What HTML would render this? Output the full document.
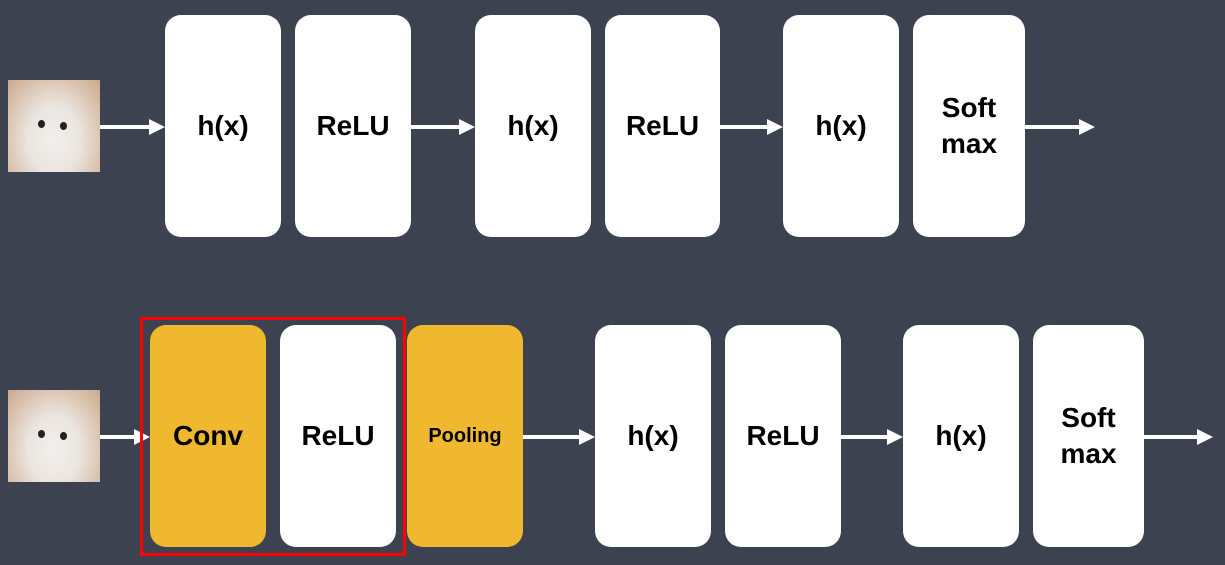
<!DOCTYPE html>
<html><head><style>
body{margin:0;width:1225px;height:565px;background:#3c4250;position:relative;overflow:hidden;font-family:"Liberation Sans","Noto Sans CJK KR",sans-serif;}
.b{position:absolute;background:#fff;border-radius:16px;display:flex;align-items:center;justify-content:center;text-align:center;font-weight:bold;font-size:28px;color:#000;line-height:36px;}
.y{background:#f0b82e;}
.cat{position:absolute;width:92px;height:92px;background:radial-gradient(ellipse at 50% 65%,#f2efec 0%,#ebe5e0 40%,#d9c2ad 75%,#caa88c 100%);}
.cat:before{content:"";position:absolute;left:30px;top:40px;width:7px;height:8px;border-radius:50%;background:#222;box-shadow:22px 2px 0 #222;}
</style></head><body>
<div class="cat" style="left:8px;top:80px"></div>
<div class="cat" style="left:8px;top:390px"></div>
<svg width="1225" height="565" style="position:absolute;left:0;top:0">
<defs><marker id="a" markerWidth="4" markerHeight="4" refX="3" refY="2" orient="auto"><path d="M0,0L4,2L0,4z" fill="#fff"/></marker></defs>
<g stroke="#fff" stroke-width="4" marker-end="url(#a)">
<line x1="100" y1="127" x2="161" y2="127"/>
<line x1="411" y1="127" x2="471" y2="127"/>
<line x1="720" y1="127" x2="779" y2="127"/>
<line x1="1025" y1="127" x2="1091" y2="127"/>
<line x1="100" y1="437" x2="146" y2="437"/>
<line x1="523" y1="437" x2="591" y2="437"/>
<line x1="841" y1="437" x2="899" y2="437"/>
<line x1="1144" y1="437" x2="1209" y2="437"/>
</g>
<rect x="141.5" y="318.5" width="263" height="236" fill="none" stroke="#f00" stroke-width="3"/>
</svg>
<div class="b" style="left:165px;top:15px;width:116px;height:222px">h(x)</div>
<div class="b" style="left:295px;top:15px;width:116px;height:222px">ReLU</div>
<div class="b" style="left:475px;top:15px;width:116px;height:222px">h(x)</div>
<div class="b" style="left:605px;top:15px;width:115px;height:222px">ReLU</div>
<div class="b" style="left:783px;top:15px;width:116px;height:222px">h(x)</div>
<div class="b" style="left:913px;top:15px;width:112px;height:222px">Soft<br>max</div>
<div class="b y" style="left:150px;top:325px;width:116px;height:222px">Conv</div>
<div class="b" style="left:280px;top:325px;width:116px;height:222px">ReLU</div>
<div class="b y" style="left:407px;top:325px;width:116px;height:222px;font-size:20px">Pooling</div>
<div class="b" style="left:595px;top:325px;width:116px;height:222px">h(x)</div>
<div class="b" style="left:725px;top:325px;width:116px;height:222px">ReLU</div>
<div class="b" style="left:903px;top:325px;width:116px;height:222px">h(x)</div>
<div class="b" style="left:1033px;top:325px;width:111px;height:222px">Soft<br>max</div>
</body></html>
